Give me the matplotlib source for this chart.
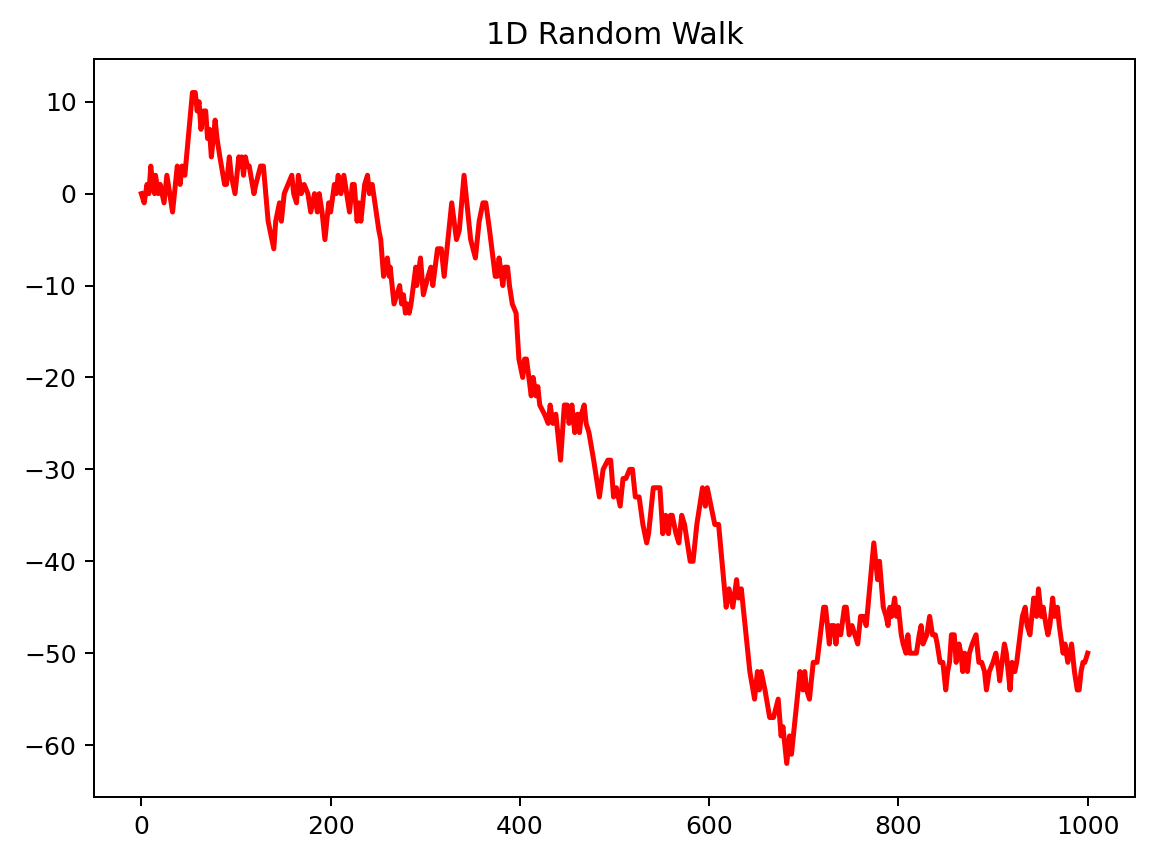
import numpy as np
import matplotlib
matplotlib.use('Agg')
import matplotlib.pyplot as plt

# turning points of the walk (step, position)
steps = [0, 3, 6, 8, 10, 12, 14, 15, 18, 20, 22, 24, 27, 30, 33, 38, 41, 43, 46,
         54, 57, 59, 61, 63, 66, 68, 70, 72, 74, 78, 80, 83, 88, 90, 93, 95, 99,
         103, 105, 106, 108, 110, 112, 114, 119, 121, 126, 129, 134, 136, 140,
         142, 144, 146, 148, 151, 155, 159, 161, 164, 166, 169, 172, 176, 179,
         183, 186, 188, 191, 194, 198, 200, 204, 206, 208, 211, 214, 217, 220,
         223, 225, 228, 230, 232, 236, 239, 241, 244, 251, 253, 256, 260, 262,
         263, 267, 270, 273, 275, 277, 279, 281, 283, 285, 290, 291, 295, 298,
         303, 306, 308, 313, 317, 320, 328, 333, 336, 341, 348, 353, 357, 361,
         364, 368, 374, 376, 378, 382, 384, 387, 389, 392, 396, 399, 403, 405,
         407, 412, 414, 417, 419, 421, 426, 430, 432, 435, 438, 443, 447, 450,
         452, 455, 458, 461, 463, 465, 468, 470, 473, 478, 481, 484, 488, 493,
         496, 499, 502, 504, 506, 509, 512, 516, 519, 522, 524, 526, 530, 534,
         536, 541, 548, 551, 554, 557, 559, 561, 565, 568, 571, 574, 580, 583,
         587, 590, 593, 596, 598, 604, 606, 610, 618, 621, 625, 629, 631, 634,
         643, 648, 651, 653, 655, 659, 664, 668, 673, 676, 678, 682, 685, 687,
         696, 699, 701, 703, 706, 710, 714, 721, 723, 727, 729, 732, 734, 736,
         739, 743, 745, 748, 751, 754, 757, 760, 763, 766, 774, 778, 780, 784,
         787, 789, 791, 793, 796, 798, 800, 803, 805, 808, 810, 812, 816, 819,
         822, 824, 826, 830, 833, 836, 839, 841, 844, 847, 850, 852, 854, 856,
         859, 861, 864, 866, 868, 870, 873, 875, 878, 882, 885, 888, 891, 893,
         896, 900, 903, 906, 907, 912, 914, 918, 920, 923, 925, 931, 934, 936,
         939, 943, 946, 948, 951, 953, 956, 958, 960, 963, 965, 968, 970, 974,
         976, 979, 983, 986, 989, 991, 993, 995, 997, 1000]
walk = [0, -1, 1, 0, 3, 1, 0, 2, 0, 1, 0, -1, 2, 0, -2, 3, 1, 3, 2,
        11, 11, 9, 10, 7, 9, 9, 6, 7, 4, 8, 6, 4, 1, 1, 4, 2, 0,
        4, 3, 4, 2, 4, 3, 3, 0, 1, 3, 3, -3, -4, -6,
        -3, -2, -1, -3, 0, 1, 2, 0, -1, 2, 0, 1, 0, -2,
        0, -2, 0, -2, -5, -1, -2, 1, 0, 2, 0, 2, 0, -2,
        1, 1, -3, -1, -3, 1, 2, 0, 1, -4, -5, -9, -7, -9,
        -8, -12, -11, -10, -12, -11, -13, -12, -13, -12, -8, -10, -7, -11,
        -9, -8, -10, -6, -6, -9, -1, -5, -4, 2, -5, -7, -3, -1,
        -1, -4, -9, -9, -7, -10, -8, -8, -10, -12, -13, -18, -20, -18,
        -18, -22, -20, -22, -21, -23, -24, -25, -23, -25, -24, -29, -23, -23,
        -25, -23, -26, -24, -26, -24, -23, -25, -26, -29, -31, -33, -30, -29,
        -29, -33, -32, -33, -34, -31, -31, -30, -30, -33, -33, -33, -36, -38,
        -37, -32, -32, -37, -35, -37, -35, -35, -37, -38, -35, -36, -40, -40,
        -36, -34, -32, -34, -32, -35, -36, -36, -45, -43, -45, -42, -44, -43,
        -52, -55, -52, -54, -52, -54, -57, -57, -55, -59, -58, -62, -59, -61,
        -52, -54, -52, -54, -55, -51, -51, -45, -45, -49, -47, -47, -49, -47,
        -48, -45, -45, -48, -47, -48, -49, -46, -46, -47, -38, -42, -40, -45,
        -46, -47, -45, -46, -44, -46, -45, -48, -49, -50, -48, -50, -50, -50,
        -48, -47, -49, -48, -46, -48, -48, -49, -51, -51, -54, -52, -51, -48,
        -48, -51, -49, -50, -52, -50, -52, -50, -49, -48, -51, -51, -52, -54,
        -52, -51, -50, -52, -53, -49, -50, -54, -51, -52, -51, -46, -45, -47,
        -48, -44, -46, -43, -46, -45, -47, -48, -47, -44, -46, -45, -47, -50,
        -49, -51, -49, -52, -54, -54, -52, -51, -51, -50]

fig = plt.figure(figsize=(1154 / 180, 862 / 180), dpi=180)
ax = fig.add_subplot(111)
ax.plot(steps, walk, color='red', lw=2)
ax.set_title('1D Random Walk')
fig.subplots_adjust(left=94 / 1154, right=1135 / 1154, top=1 - 59 / 862, bottom=1 - 797 / 862)
fig.savefig('out.png', dpi=180)
